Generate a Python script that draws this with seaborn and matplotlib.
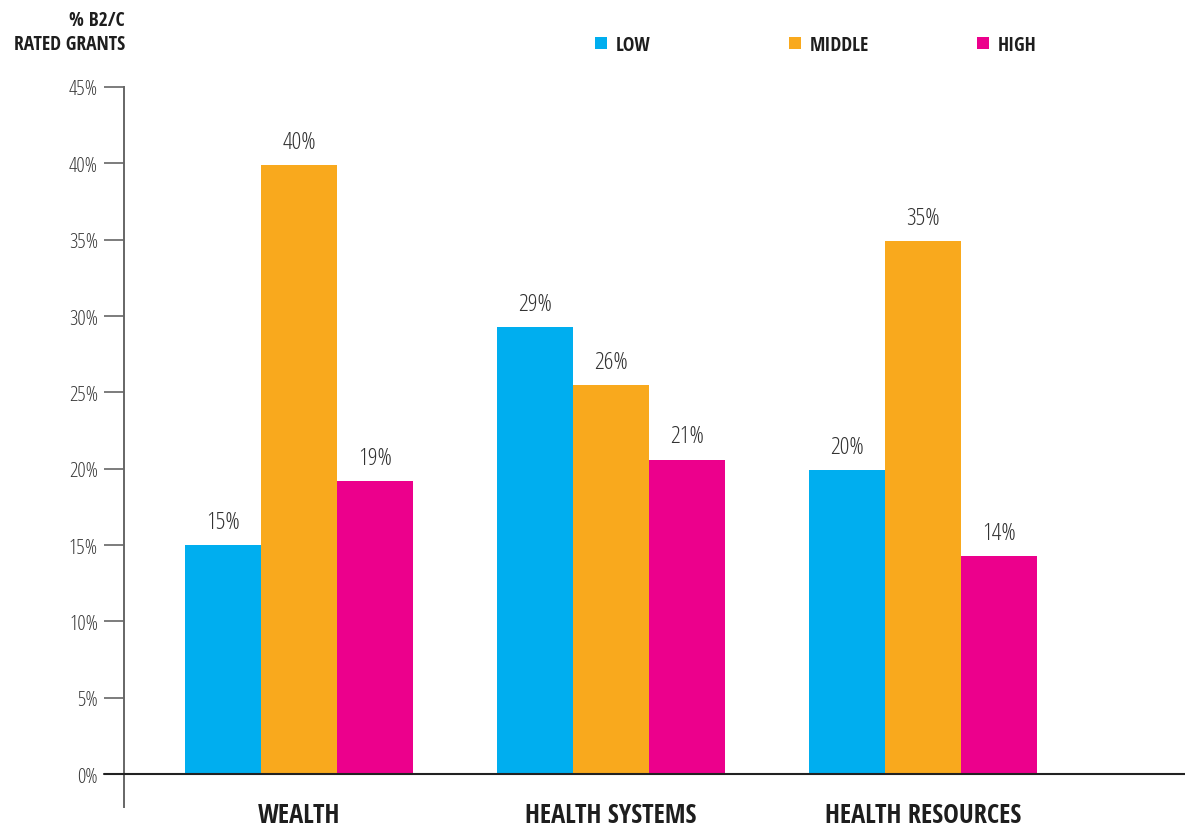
import matplotlib
matplotlib.use("Agg")
import matplotlib.pyplot as plt
from matplotlib import font_manager
from matplotlib.patches import Patch
import seaborn as sns
import pandas as pd

# --- data -------------------------------------------------------------
categories = ["WEALTH", "HEALTH SYSTEMS", "HEALTH RESOURCES"]
levels = ["LOW", "MIDDLE", "HIGH"]
low_vals = [15.0, 29.3, 19.9]
middle_vals = [39.9, 25.5, 34.9]
high_vals = [19.2, 20.6, 14.3]
y_ticks = [0, 5, 10, 15, 20, 25, 30, 35, 40, 45]
colors = ["#00AEEF", "#F9A91D", "#EC008C"]

rows = []
for lvl, vals in zip(levels, [low_vals, middle_vals, high_vals]):
    for cat, v in zip(categories, vals):
        rows.append({"category": cat, "level": lvl, "value": v})
df = pd.DataFrame(rows)

sns.set_theme(style="white")
names = {f.name for f in font_manager.fontManager.ttflist}


def pick(*cands):
    for c in cands:
        if c in names:
            return c
    return "DejaVu Sans"


light_font = pick("Open Sans", "IBM Plex Sans Condensed")
bold_font = pick("Open Sans Condensed", "Oswald", "IBM Plex Sans Condensed")
plt.rcParams["font.family"] = [light_font, "DejaVu Sans"]

LIGHT = dict(family=[light_font, "DejaVu Sans"], fontstretch="condensed", fontweight=300)
BOLD = dict(family=[bold_font, "DejaVu Sans"], fontweight="bold")

W, H = 1185, 828
fig = plt.figure(figsize=(W / 100, H / 100), dpi=100)
ax = fig.add_axes([124 / W, 1 - 808 / H, (W - 124) / W, (808 - 88) / H])

sns.barplot(data=df, x="category", y="value", hue="level", order=categories,
            hue_order=levels, palette=colors, width=0.728, saturation=1,
            linewidth=0, legend=False, ax=ax)

ax.set_xlim(-0.561, 2.84)
ax.set_ylim(-2.16, 45)
ax.set_yticks(y_ticks)
ax.set_yticklabels([f"{t}%" for t in y_ticks], fontsize=15, color="#3a3a3a", **LIGHT)
ax.tick_params(axis="y", direction="out", length=14.4, width=1.2,
               color="#666666", pad=4.3, left=True)
ax.tick_params(axis="x", length=0, pad=-4)
ax.set_xticks(range(len(categories)))
ax.set_xticklabels(categories, fontsize=19, color="#1e1e1e", **BOLD)
ax.set_xlabel("")
ax.set_ylabel("")

for side in ["top", "right", "bottom"]:
    ax.spines[side].set_visible(False)
ax.spines["left"].set_color("#666666")
ax.spines["left"].set_linewidth(1.4)

# baseline at 0% reaching past the spine to the left
ax.axhline(0, xmin=-20 / (W - 124), xmax=1, color="#222222", lw=1.5,
           clip_on=False, zorder=5)

for cont in ax.containers:
    ax.bar_label(cont, labels=[f"{b.get_height():.0f}%" for b in cont],
                 padding=8, fontsize=17.5, color="#333333", **LIGHT)

# axis title
fig.text(125 / W, 1 - 33 / H, "% B2/C\nRATED GRANTS", ha="right", va="center",
         fontsize=14, color="#1e1e1e", linespacing=1.2, **BOLD)

# legend entries, one per level
legend_x = [595, 789, 977]
for lvl, col, lx in zip(levels, colors, legend_x):
    leg = fig.legend(handles=[Patch(facecolor=col, edgecolor="none", label=lvl)],
                     loc="center left", bbox_to_anchor=(lx / W, 1 - 46 / H),
                     frameon=False, handlelength=0.62, handleheight=0.62,
                     handletextpad=0.45, borderpad=0, borderaxespad=0,
                     prop={"family": [bold_font, "DejaVu Sans"], "weight": "bold", "size": 14})
    for t in leg.get_texts():
        t.set_color("#1e1e1e")

fig.savefig("out.png", dpi=100, facecolor="white")
